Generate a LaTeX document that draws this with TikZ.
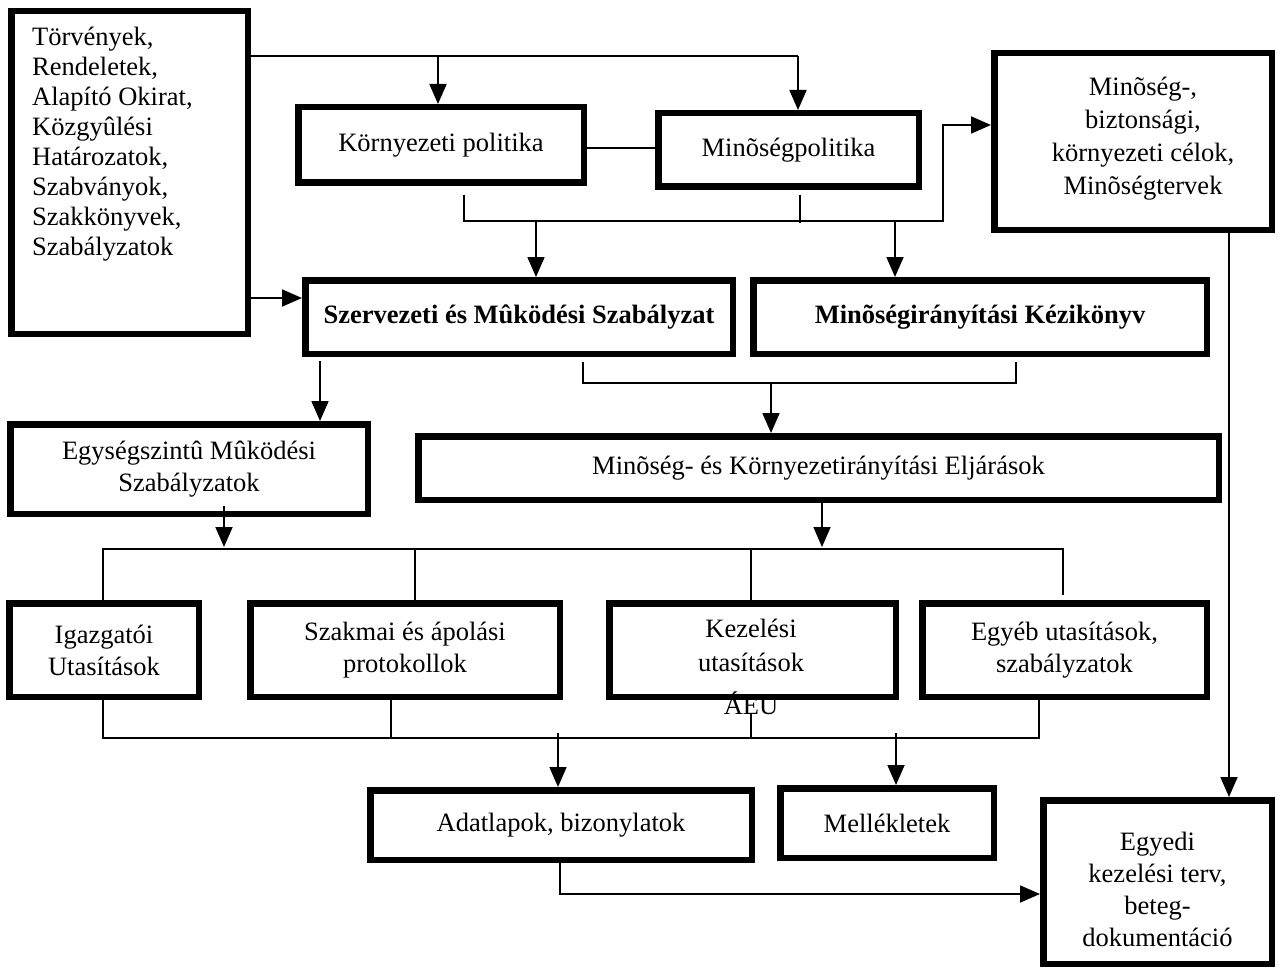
\documentclass[tikz,border=0pt]{standalone}
\usepackage{fontspec}
\setmainfont{Liberation Serif}
\usetikzlibrary{arrows.meta}
\begin{document}
\begin{tikzpicture}[x=1pt,y=-1pt,
  box/.style={draw, line width=6.5pt, inner sep=0pt, align=center,
    font=\fontsize{26.5pt}{32pt}\selectfont},
  bbox/.style={box, font=\fontsize{26.5pt}{32pt}\selectfont\bfseries},
  txt/.style={inner sep=0pt, align=center, font=\fontsize{26.5pt}{30pt}\selectfont},
  conn/.style={line width=1.8pt},
  arr/.style={conn, -{Triangle[length=20pt,width=17pt]}},
]
\useasboundingbox (0,0) rectangle (1278,971);
\fill[white] (0,0) rectangle (1278,971);

% --- sources column ---
\node[box, minimum width=236.5pt, minimum height=322.5pt] (A) at (129.5,172.5) {};
\node[txt, anchor=north west, align=left] (Atext) at (32,27)
  {Törvények,\\Rendeletek,\\Alapító Okirat,\\Közgyûlési\\Határozatok,\\Szabványok,\\Szakkönyvek,\\Szabályzatok};

% --- policies and objectives ---
\node[box, minimum width=285.5pt, minimum height=75.5pt] (B) at (441,145) {\raisebox{-2pt}{Környezeti politika}};
\node[box, minimum width=260.5pt, minimum height=73.5pt] (C) at (788.5,150) {Minõségpolitika};
\node[box, minimum width=277.5pt, minimum height=176.5pt] (D) at (1133,141.5) {};
\node[txt, font=\fontsize{26.5pt}{33pt}\selectfont] (Dtext) at (1143,139)
  {Minõség-,\\biztonsági,\\környezeti célok,\\Minõségtervek};

% --- regulations and handbook ---
\node[bbox, minimum width=427.5pt, minimum height=73.5pt] (E) at (519,317) {Szervezeti és Mûködési Szabályzat};
\node[bbox, minimum width=453.5pt, minimum height=73.5pt] (F) at (980,317) {Minõségirányítási Kézikönyv};

% --- second level ---
\node[box, minimum width=357.5pt, minimum height=89.5pt] (G) at (189,469) {Egységszintû Mûködési\\Szabályzatok};
\node[box, minimum width=800.5pt, minimum height=63.5pt] (H) at (818.5,468) {Minõség- és Környezetirányítási Eljárások};

% --- instructions row ---
\node[txt, anchor=base] (AEU) at (751,714) {ÁEU};
\node[box, minimum width=189.5pt, minimum height=93.5pt] (I) at (104,650) {Igazgatói\\Utasítások};
\node[box, minimum width=309.5pt, minimum height=93.5pt] (J) at (405,650) {Szakmai és ápolási\\protokollok};
\node[box, minimum width=286.5pt, minimum height=93.5pt] (K) at (752.5,650) {};
\node[txt, font=\fontsize{26.5pt}{34pt}\selectfont] (Ktext) at (751,645) {Kezelési\\utasítások};
\node[box, minimum width=284.5pt, minimum height=93.5pt] (L) at (1064.5,650) {Egyéb utasítások,\\szabályzatok};

% --- records and attachments ---
\node[box, minimum width=381.5pt, minimum height=69.5pt] (M) at (561,825) {Adatlapok, bizonylatok};
\node[box, minimum width=213.5pt, minimum height=69.5pt] (N) at (887,823) {Mellékletek};
\node[box, minimum width=228.5pt, minimum height=163.5pt] (O) at (1157.5,882) {};
\node[txt, font=\fontsize{26.5pt}{32pt}\selectfont] (Otext) at (1157.5,889)
  {Egyedi\\kezelési terv,\\beteg-\\dokumentáció};

% --- connectors: top distribution ---
\coordinate (t1) at (438,56);
\coordinate (t2) at (798,56);
\draw[conn] (A.east |- t1) -- (t2);
\draw[arr] (t1) -- (t1 |- B.north);
\draw[arr] (t2) -- (t2 |- C.north);
\coordinate (bc) at (620,148);
\draw[conn] (B.east |- bc) -- (C.west |- bc);

% policies bracket
\coordinate (q1) at (464,195);
\coordinate (q2) at (943,221);
\coordinate (q3) at (943,125);
\draw[arr] (q1) |- (q2) -- (q3) -- (D.west |- q3);
\coordinate (q4) at (800,195);
\coordinate (q4b) at (800,223);
\draw[conn] (q4) -- (q4b);
\coordinate (q5) at (536,221);
\draw[arr] (q5) -- (q5 |- E.north);
\coordinate (q6) at (895,221);
\draw[arr] (q6) -- (q6 |- F.north);

% sources to regulations
\coordinate (ae) at (0,298);
\draw[arr] (A.east |- ae) -- (E.west |- ae);

% regulations downwards
\coordinate (eg) at (320,361);
\draw[arr] (eg) -- (eg |- G.north);
\coordinate (r1) at (583,362);
\coordinate (r2) at (1016,383);
\coordinate (r3) at (1016,362);
\draw[conn] (r1) |- (r2) -- (r3);
\coordinate (r4) at (771,383);
\draw[arr] (r4) -- (r4 |- H.north);

% distribution bar to instructions
\coordinate (g1) at (224,506);
\coordinate (g2) at (224,547);
\draw[arr] (g1) -- (g2);
\coordinate (h1) at (822,497);
\coordinate (h2) at (822,547);
\draw[arr] (h1) -- (h2);
\coordinate (b1) at (103,549);
\coordinate (b2) at (1063,549);
\coordinate (b3) at (1063,595);
\draw[conn] (b1 |- I.north) -- (b1) -- (b2) -- (b3);
\coordinate (b4) at (415,549);
\draw[conn] (b4) -- (b4 |- J.north);
\coordinate (b5) at (751,549);
\draw[conn] (b5) -- (b5 |- K.north);

% collecting bar
\coordinate (c1) at (103,738);
\coordinate (c2) at (1039,738);
\draw[conn] (c1 |- I.south) -- (c1) -- (c2) -- (c2 |- L.south);
\coordinate (c3) at (391,738);
\draw[conn] (c3 |- J.south) -- (c3);
\coordinate (c4) at (751,713);
\draw[conn] (c4) -- (c4 |- c1);
\coordinate (c5) at (558,733);
\draw[arr] (c5) -- (c5 |- M.north);
\coordinate (c6) at (896,733);
\draw[arr] (c6) -- (c6 |- N.north);

% to the individual treatment plan
\coordinate (m1) at (560,894);
\draw[arr] (m1 |- M.south) -- (m1) -- (O.west |- m1);
\coordinate (d1) at (1229,0);
\draw[arr] (d1 |- D.south) -- (d1 |- O.north);
\end{tikzpicture}
\end{document}
